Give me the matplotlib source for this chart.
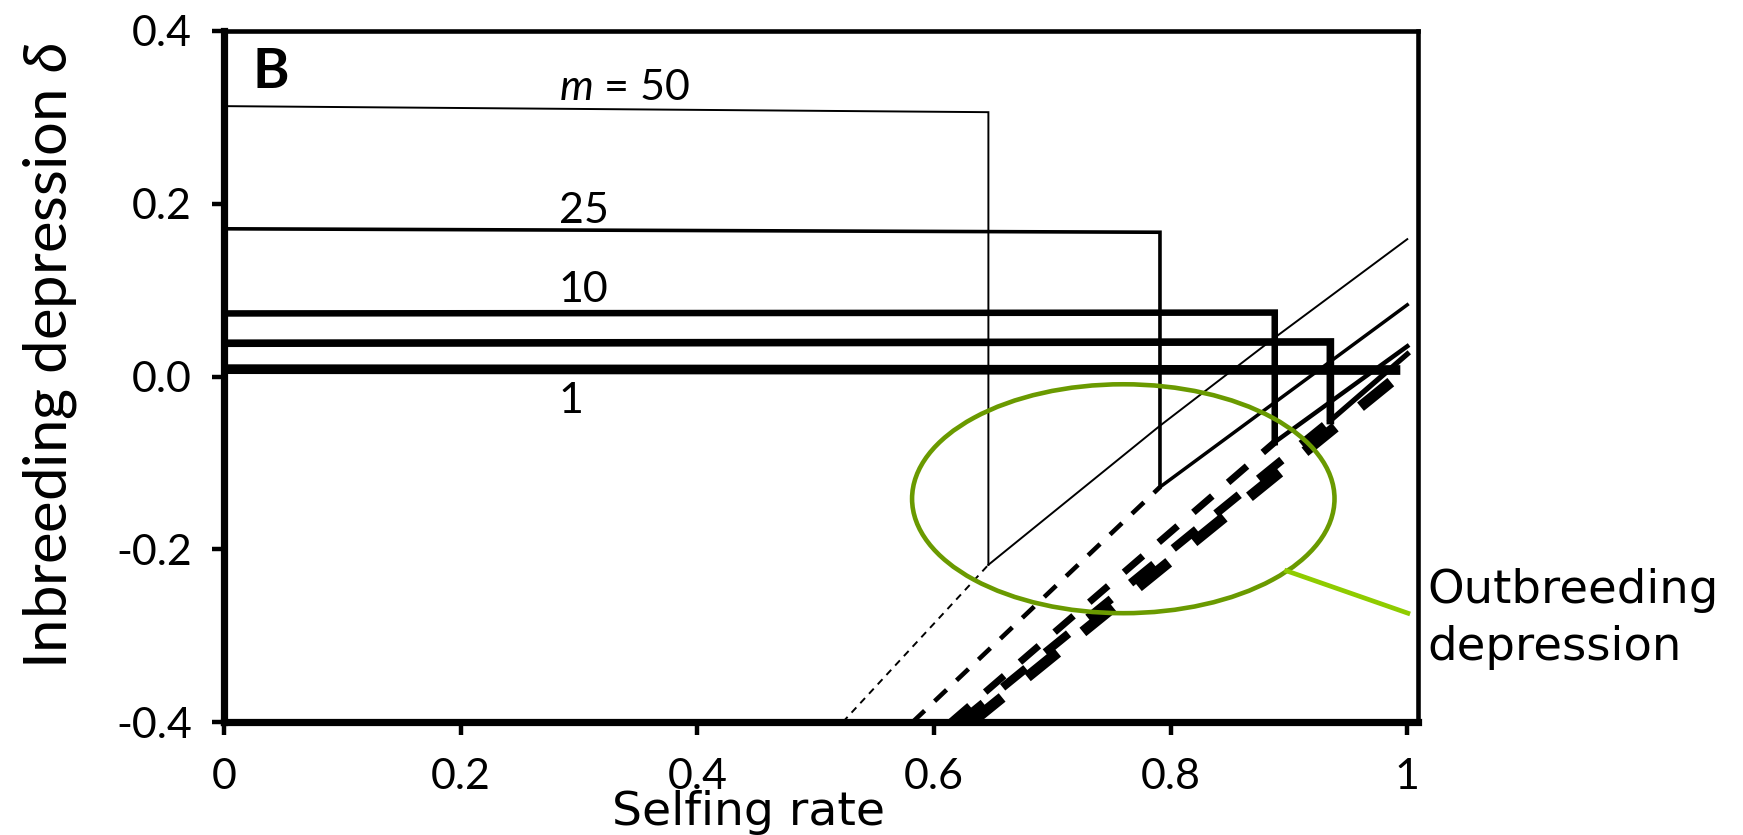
import matplotlib
matplotlib.use("Agg")
import matplotlib.pyplot as plt
from matplotlib.patches import Ellipse

plt.rcParams["font.family"] = ["Lato", "DejaVu Sans"]
plt.rcParams["mathtext.fontset"] = "custom"
plt.rcParams["mathtext.rm"] = "Lato"
plt.rcParams["mathtext.it"] = "Lato:italic"

# -----------------------------------------------------------------------------
# Data (selfing rate vs inbreeding depression)
# -----------------------------------------------------------------------------
m_values = [50, 25, 10, 5, 1]

# plateau (low selfing) up to the jump, then the drop
plateau_x = [[0.0, 0.646], [0.0, 0.791], [0.0, 0.888], [0.0, 0.935], [0.0, 0.99]]
plateau_y = [[0.313, 0.306], [0.171, 0.167], [0.073, 0.074], [0.0385, 0.040], [0.0085, 0.0075]]

# branch after the jump (outbreeding depression side)
rising_x = [[0.646, 0.791, 0.888, 1.0], [0.791, 1.0], [0.888, 1.0], [0.935, 1.0], []]
rising_y = [[-0.218, -0.057, 0.045, 0.159], [-0.128, 0.083], [-0.076, 0.035], [-0.051, 0.026], []]

# dashed continuation of the lower branch
dashed_x = [[0.523, 0.646], [0.582, 0.791], [0.614, 0.888], [0.622, 0.935], [0.632, 1.0]]
dashed_y = [[-0.40, -0.218], [-0.40, -0.128], [-0.40, -0.076], [-0.40, -0.051], [-0.40, 0.009]]

lw_flat = [1.4, 2.6, 4.7, 5.5, 7.0]
lw_rise = [1.4, 2.5, 3.2, 3.8, 0]
lw_dash = [1.4, 3.3, 5.0, 6.0, 7.8]

label_text = ["$m$ = 50", "25", "10", "1"]
label_y = [0.320, 0.178, 0.086, -0.042]
label_x = 0.283

x_ticks = [0, 0.2, 0.4, 0.6, 0.8, 1]
x_tick_labels = ["0", "0.2", "0.4", "0.6", "0.8", "1"]
y_ticks = [-0.4, -0.2, 0.0, 0.2, 0.4]
y_tick_labels = ["-0.4", "-0.2", "0.0", "0.2", "0.4"]

# outbreeding-depression callout
ellipse_center = (0.760, -0.1415)
ellipse_size = (0.357, 0.265)
callout_x = [0.898, 1.0005]
callout_y = [-0.225, -0.274]

# -----------------------------------------------------------------------------
# Figure
# -----------------------------------------------------------------------------
fig = plt.figure(figsize=(17.43, 8.35), dpi=100)
ax = fig.add_axes([0.1285, 0.1353, 0.685, 0.8276])

for i, m in enumerate(m_values):
    xs = plateau_x[i] + rising_x[i][:1]
    ys = plateau_y[i] + rising_y[i][:1]
    ax.plot(xs, ys, color="black", lw=lw_flat[i], solid_joinstyle="miter")
    if rising_x[i]:
        ax.plot(rising_x[i], rising_y[i], color="black", lw=lw_rise[i])
    ax.plot(dashed_x[i], dashed_y[i], color="black", lw=lw_dash[i],
            linestyle=(0, (3.6, 3.0)))

for txt, y in zip(label_text, label_y):
    ax.text(label_x, y, txt, fontsize=31, va="baseline", ha="left")

ax.text(0.024, 0.94, "B", transform=ax.transAxes, fontsize=40,
        fontweight="bold", va="center", ha="left")

ax.add_patch(Ellipse(ellipse_center, ellipse_size[0], ellipse_size[1],
                     fill=False, edgecolor="#6A9A00", lw=3.3, zorder=5))
ax.plot(callout_x, callout_y, color="#8FCC00", lw=3.4, clip_on=False, zorder=5)

ax.set_xlim(0, 1.009)
ax.set_ylim(-0.4, 0.4)
ax.set_xticks(x_ticks)
ax.set_xticklabels(x_tick_labels)
ax.set_yticks(y_ticks)
ax.set_yticklabels(y_tick_labels)
ax.tick_params(axis="both", direction="out", length=9, width=3.2, labelsize=31)
ax.tick_params(axis="x", pad=17)
ax.tick_params(axis="y", pad=14)

for side in ["left", "bottom"]:
    ax.spines[side].set_linewidth(5.2)
for side in ["top", "right"]:
    ax.spines[side].set_linewidth(3.3)

ax.text(-0.146, 0.53, r"Inbreeding depression $\delta$", transform=ax.transAxes,
        rotation=90, ha="center", va="center", fontsize=43)

fig.text(0.3511, 0.012, "Selfing rate", family="DejaVu Sans", fontsize=34,
         va="baseline", ha="left")
fig.text(0.8187, 0.2778, "Outbreeding", family="DejaVu Sans", fontsize=33.5,
         va="baseline", ha="left")
fig.text(0.8187, 0.2096, "depression", family="DejaVu Sans", fontsize=33.5,
         va="baseline", ha="left")

fig.savefig("out.png", dpi=100)
